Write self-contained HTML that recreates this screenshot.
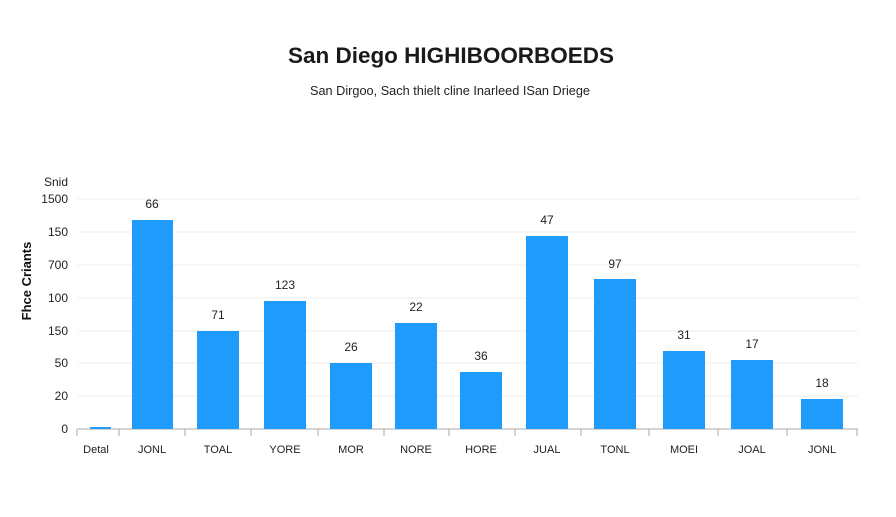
<!DOCTYPE html>
<html><head><style>
body{margin:0;background:#fff;width:896px;height:512px;overflow:hidden;font-family:"Liberation Sans",sans-serif;}
</style></head><body>
<svg width="896" height="512" xmlns="http://www.w3.org/2000/svg" font-family="Liberation Sans, sans-serif">
<text x="451" y="63" text-anchor="middle" font-size="22" font-weight="bold" fill="#1a1a1a" textLength="326" lengthAdjust="spacingAndGlyphs">San Diego HIGHIBOORBOEDS</text>
<text x="450" y="95" text-anchor="middle" font-size="13" fill="#222" textLength="280" lengthAdjust="spacingAndGlyphs">San Dirgoo, Sach thielt cline Inarleed ISan Driege</text>
<g stroke="#ececec" stroke-width="1">
<line x1="78" x2="858" y1="199" y2="199"/><line x1="78" x2="858" y1="232" y2="232"/>
<line x1="78" x2="858" y1="265" y2="265"/><line x1="78" x2="858" y1="298" y2="298"/>
<line x1="78" x2="858" y1="331" y2="331"/><line x1="78" x2="858" y1="363" y2="363"/>
<line x1="78" x2="858" y1="396" y2="396"/>
</g>
<line x1="77" x2="858" y1="429" y2="429" stroke="#aaa"/>
<g stroke="#aaa"><line x1="77" x2="77" y1="429" y2="436"/><line x1="119" x2="119" y1="429" y2="436"/><line x1="185" x2="185" y1="429" y2="436"/><line x1="251" x2="251" y1="429" y2="436"/><line x1="318" x2="318" y1="429" y2="436"/><line x1="384" x2="384" y1="429" y2="436"/><line x1="449" x2="449" y1="429" y2="436"/><line x1="515" x2="515" y1="429" y2="436"/><line x1="581" x2="581" y1="429" y2="436"/><line x1="649" x2="649" y1="429" y2="436"/><line x1="718" x2="718" y1="429" y2="436"/><line x1="787" x2="787" y1="429" y2="436"/><line x1="857" x2="857" y1="429" y2="436"/></g>
<g font-size="12" fill="#222" text-anchor="end">
<text x="68" y="186">Snid</text>
<text x="68" y="203">1500</text><text x="68" y="236">150</text><text x="68" y="269">700</text>
<text x="68" y="302">100</text><text x="68" y="335">150</text><text x="68" y="367">50</text>
<text x="68" y="400">20</text><text x="68" y="433">0</text>
</g>
<text transform="translate(31,281) rotate(-90)" text-anchor="middle" font-size="13" font-weight="bold" fill="#111">Fhce Criants</text>
<g fill="#1f9cfb">
<rect x="90" y="427" width="21" height="2"/>
<rect x="132" y="220" width="41" height="209"/>
<rect x="197" y="331" width="42" height="98"/>
<rect x="264" y="301" width="42" height="128"/>
<rect x="330" y="363" width="42" height="66"/>
<rect x="395" y="323" width="42" height="106"/>
<rect x="460" y="372" width="42" height="57"/>
<rect x="526" y="236" width="42" height="193"/>
<rect x="594" y="279" width="42" height="150"/>
<rect x="663" y="351" width="42" height="78"/>
<rect x="731" y="360" width="42" height="69"/>
<rect x="801" y="399" width="42" height="30"/>
</g>
<g font-size="12" fill="#222" text-anchor="middle">
<text x="152" y="208">66</text><text x="218" y="319">71</text><text x="285" y="289">123</text>
<text x="351" y="351">26</text><text x="416" y="311">22</text><text x="481" y="360">36</text>
<text x="547" y="224">47</text><text x="615" y="268">97</text><text x="684" y="339">31</text>
<text x="752" y="348">17</text><text x="822" y="387">18</text>
</g>
<g font-size="11" fill="#222" text-anchor="middle">
<text x="96" y="453">Detal</text><text x="152" y="453">JONL</text><text x="218" y="453">TOAL</text>
<text x="285" y="453">YORE</text><text x="351" y="453">MOR</text><text x="416" y="453">NORE</text>
<text x="481" y="453">HORE</text><text x="547" y="453">JUAL</text><text x="615" y="453">TONL</text>
<text x="684" y="453">MOEI</text><text x="752" y="453">JOAL</text><text x="822" y="453">JONL</text>
</g>
</svg>
</body></html>
